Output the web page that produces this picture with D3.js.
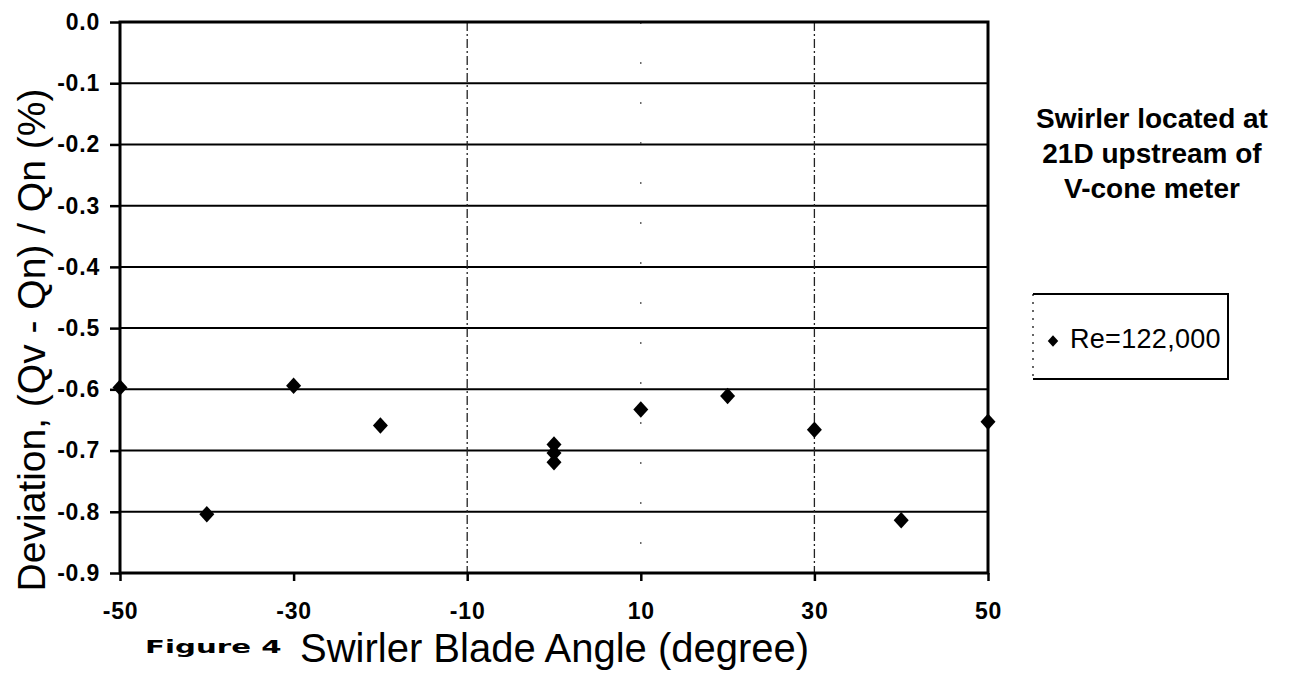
<!DOCTYPE html>
<html>
<head>
<meta charset="utf-8">
<script src="https://cdn.jsdelivr.net/npm/d3@7"></script>
<style>
  body { margin: 0; background: #fff; }
  svg { display: block; }
</style>
</head>
<body>
<svg id="chart" width="1289" height="675"></svg>
<script>
// swirler blade angle (degree) vs deviation (%)
var angles = [-50, -40, -30, -20, 0, 0, 0, 10, 20, 30, 40, 50];
var deviations = [-0.597, -0.804, -0.594, -0.659, -0.690, -0.704, -0.719, -0.633, -0.611, -0.666, -0.814, -0.653];

var xTicks = [-50, -30, -10, 10, 30, 50];
var yTicks = [0, -0.1, -0.2, -0.3, -0.4, -0.5, -0.6, -0.7, -0.8, -0.9];
var vGrid = [-10, 30];
var vGridFaint = [10];

var seriesName = "Re=122,000";
var noteLines = ["Swirler located at", "21D upstream of", "V-cone meter"];

var svg = d3.select("#chart"),
    margin = {top: 22, right: 301, bottom: 102, left: 120},
    width = 1289 - margin.left - margin.right,
    height = 675 - margin.top - margin.bottom;

var g = svg.append("g").attr("transform", "translate(" + margin.left + "," + margin.top + ")");

var x = d3.scaleLinear().domain([-50, 50]).range([0, width]);
var y = d3.scaleLinear().domain([-0.9, 0]).range([height, 0]);

var font = "'Liberation Sans', Arial, Helvetica, sans-serif";

// horizontal gridlines
g.append("g").selectAll("line")
  .data(yTicks.slice(1, -1))
  .enter().append("line")
  .attr("x1", 0).attr("x2", width)
  .attr("y1", function(d) { return y(d); })
  .attr("y2", function(d) { return y(d); })
  .attr("stroke", "#000")
  .attr("stroke-width", 2);

// vertical dash-dot lines
g.append("g").selectAll("line")
  .data(vGrid)
  .enter().append("line")
  .attr("x1", function(d) { return x(d); })
  .attr("x2", function(d) { return x(d); })
  .attr("y1", 0).attr("y2", height)
  .attr("stroke", "#222")
  .attr("stroke-width", 1.3)
  .attr("stroke-dasharray", "9,3,2,3");

g.append("g").selectAll("line")
  .data(vGridFaint)
  .enter().append("line")
  .attr("x1", function(d) { return x(d); })
  .attr("x2", function(d) { return x(d); })
  .attr("y1", 0).attr("y2", height)
  .attr("stroke", "#444")
  .attr("stroke-width", 1.2)
  .attr("stroke-dasharray", "2,38");

// plot frame
g.append("rect")
  .attr("x", 0).attr("y", 0)
  .attr("width", width).attr("height", height)
  .attr("fill", "none")
  .attr("stroke", "#000")
  .attr("stroke-width", 3);

// axes
var yAxis = g.append("g")
  .call(d3.axisLeft(y).tickValues(yTicks).tickSize(10).tickPadding(10)
    .tickFormat(function(d) { return d.toFixed(1); }));

var xAxis = g.append("g")
  .attr("transform", "translate(0," + height + ")")
  .call(d3.axisBottom(x).tickValues(xTicks).tickSize(8).tickPadding(22)
    .tickFormat(function(d) { return d; }));

[yAxis, xAxis].forEach(function(ax) {
  ax.select(".domain").remove();
  ax.selectAll("line").attr("stroke", "#000").attr("stroke-width", 2.5);
  ax.selectAll("text")
    .attr("fill", "#000")
    .attr("font-family", font)
    .attr("font-weight", "bold")
    .attr("font-size", 23)
    .attr("letter-spacing", "0.8px");
});

// diamond marker
var diamond = {
  draw: function(ctx, size) {
    var r = Math.sqrt(size) / 2;
    ctx.moveTo(0, -r * 1.1);
    ctx.lineTo(r, 0);
    ctx.lineTo(0, r * 1.1);
    ctx.lineTo(-r, 0);
    ctx.closePath();
  }
};

var points = angles.map(function(a, i) { return {x: a, y: deviations[i]}; });

g.append("g").selectAll("path")
  .data(points)
  .enter().append("path")
  .attr("transform", function(d) { return "translate(" + x(d.x) + "," + y(d.y) + ")"; })
  .attr("d", d3.symbol().type(diamond).size(225))
  .attr("fill", "#000");

// axis titles
svg.append("text")
  .attr("transform", "translate(45,340) rotate(-90)")
  .attr("text-anchor", "middle")
  .attr("font-family", font)
  .attr("font-size", 39)
  .attr("fill", "#000")
  .text("Deviation, (Qv - Qn) / Qn (%)");

svg.append("text")
  .attr("transform", "translate(145,653) scale(1.72,1)")
  .attr("font-family", "'DejaVu Sans', sans-serif")
  .attr("font-weight", "bold")
  .attr("font-size", 17)
  .attr("fill", "#000")
  .text("Figure 4");

svg.append("text")
  .attr("x", 300).attr("y", 662)
  .attr("font-family", font)
  .attr("font-size", 40)
  .attr("fill", "#000")
  .text("Swirler Blade Angle (degree)");

// side note
svg.append("text")
  .attr("font-family", font)
  .attr("font-weight", "bold")
  .attr("font-size", 28)
  .attr("text-anchor", "middle")
  .attr("fill", "#000")
  .selectAll("tspan")
  .data(noteLines)
  .enter().append("tspan")
  .attr("x", 1152)
  .attr("y", function(d, i) { return 128 + i * 35; })
  .text(function(d) { return d; });

// legend
var legend = svg.append("g").attr("transform", "translate(1033,294)");
legend.append("path")
  .attr("d", "M0,0H195V85H0")
  .attr("fill", "none")
  .attr("stroke", "#000")
  .attr("stroke-width", 2);
legend.append("line")
  .attr("x1", 0).attr("x2", 0).attr("y1", 0).attr("y2", 85)
  .attr("stroke", "#000")
  .attr("stroke-width", 1.2)
  .attr("stroke-dasharray", "2,6");
legend.append("path")
  .attr("transform", "translate(20,47)")
  .attr("d", d3.symbol().type(diamond).size(110))
  .attr("fill", "#000");
legend.append("text")
  .attr("x", 37).attr("y", 54)
  .attr("font-family", font)
  .attr("font-size", 27)
  .attr("letter-spacing", "0.3px")
  .attr("fill", "#000")
  .text(seriesName);
</script>
</body>
</html>
